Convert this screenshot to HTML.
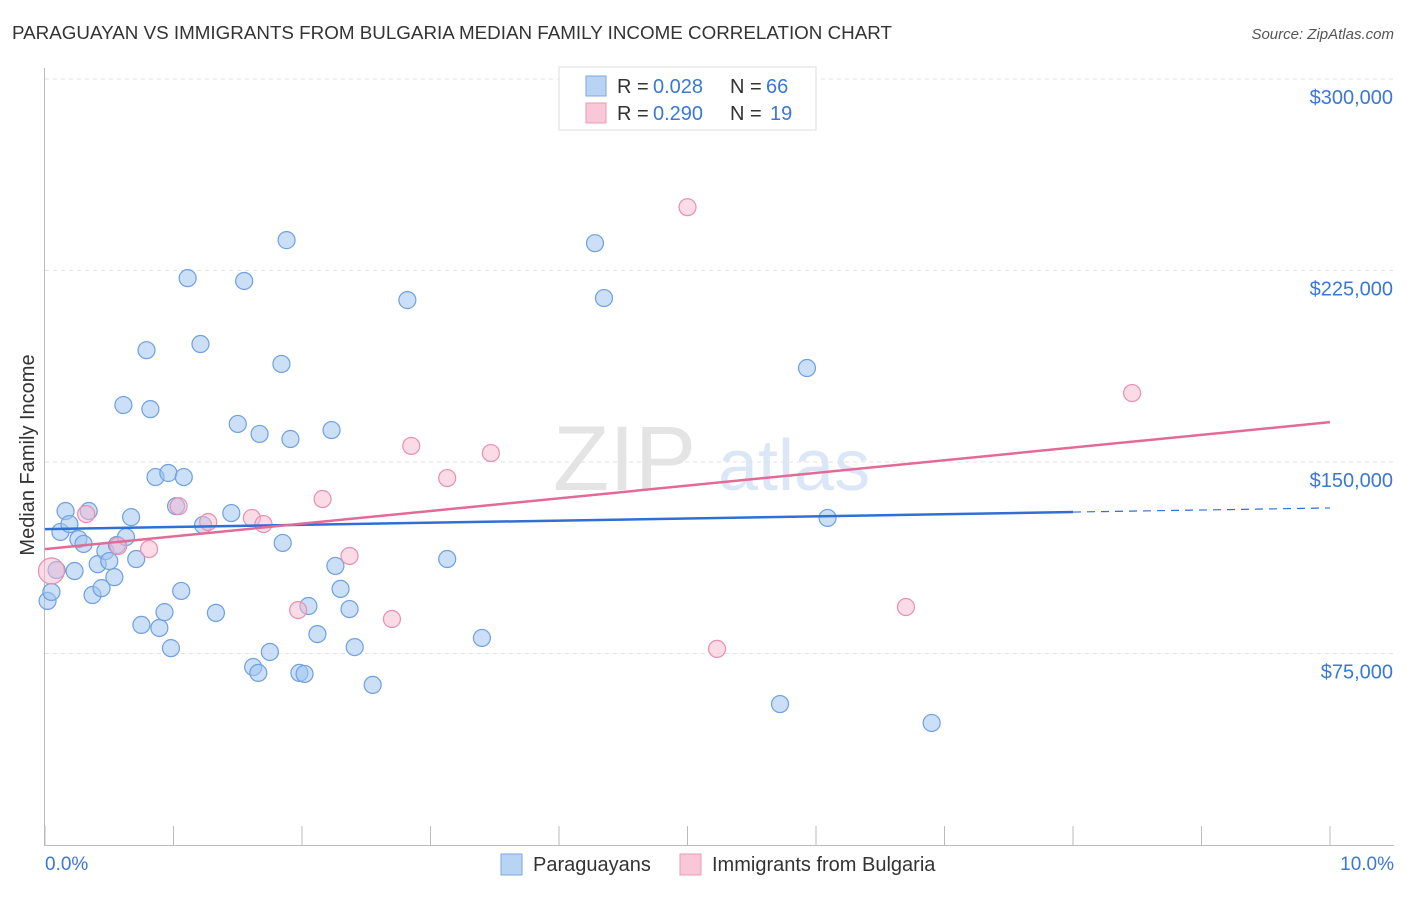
<!DOCTYPE html>
<html><head><meta charset="utf-8"><style>
body{margin:0;background:#fff;font-family:"Liberation Sans",sans-serif;}
svg text{font-family:"Liberation Sans",sans-serif;}
</style></head><body>
<svg id="chart" width="1406" height="892" xmlns="http://www.w3.org/2000/svg">
<text x="12" y="39" font-size="18" fill="#333" textLength="880" lengthAdjust="spacingAndGlyphs">PARAGUAYAN VS IMMIGRANTS FROM BULGARIA MEDIAN FAMILY INCOME CORRELATION CHART</text>
<text x="1394" y="39" font-size="15" fill="#555" text-anchor="end" font-style="italic">Source: ZipAtlas.com</text>
<text x="0" y="0" font-size="20" fill="#333" transform="translate(34,455) rotate(-90)" text-anchor="middle">Median Family Income</text>
<g><text x="553" y="490" font-size="92" fill="#e4e4e4" font-family="Liberation Serif">ZIP</text><text x="718" y="490" font-size="72" fill="#dbe7f6">atlas</text></g>
<g id="grid"></g><g id="axes"></g><g id="pts"></g><g id="lines"></g>
<g>
<rect x="559" y="67" width="257" height="63" fill="#fff" stroke="#ddd"/>
<rect x="586" y="76" width="20" height="20" fill="#b9d3f3" stroke="#7aa8e4"/>
<rect x="586" y="103" width="20" height="20" fill="#f9c8d8" stroke="#eb9ab4"/>
<text x="617" y="93" font-size="20" fill="#333">R =</text><text x="653" y="93" font-size="20" fill="#3a78d4">0.028</text>
<text x="730" y="93" font-size="20" fill="#333">N =</text><text x="766" y="93" font-size="20" fill="#3a78d4">66</text>
<text x="617" y="120" font-size="20" fill="#333">R =</text><text x="653" y="120" font-size="20" fill="#3a78d4">0.290</text>
<text x="730" y="120" font-size="20" fill="#333">N =</text><text x="770" y="120" font-size="20" fill="#3a78d4">19</text>
</g>
<g>
<rect x="501" y="854" width="21" height="21" fill="#b9d3f3" stroke="#7aa8e4"/>
<text x="533" y="871" font-size="20" fill="#333">Paraguayans</text>
<rect x="680" y="854" width="21" height="21" fill="#f9c8d8" stroke="#eb9ab4"/>
<text x="712" y="871" font-size="20" fill="#333">Immigrants from Bulgaria</text>
</g>
<text x="45" y="870" font-size="19" fill="#3a78d4">0.0%</text>
<text x="1394" y="870" font-size="19" fill="#3a78d4" text-anchor="end">10.0%</text>
</svg>
<script>
const yTicks=[75,150,225,300];
const yTickLabels=["$75,000","$150,000","$225,000","$300,000"];
const xTicks=[0,1,2,3,4,5,6,7,8,9,10];
const blueX=[.02,.05,.09,.12,.16,.19,.23,.26,.30,.34,.37,.41,.44,.47,.50,.54,.56,.63,.67,.71,.75,.79,.82,.86,.89,.93,.96,.98,1.02,1.06,1.08,1.11,1.21,1.23,1.33,1.45,1.50,1.55,1.62,1.66,1.67,1.75,1.85,1.84,1.88,1.91,1.98,2.02,2.05,2.12,2.23,2.26,2.30,2.37,2.41,2.55,2.82,3.13,3.40,4.28,4.35,5.72,5.93,6.09,6.90,.61];
const blueY=[95.6,99.1,107.7,122.6,130.8,125.7,107.3,119.8,117.9,130.8,97.9,110.0,100.6,115.1,111.2,104.9,117.5,120.6,128.4,112.0,86.2,193.8,170.7,144.1,85.0,91.2,145.7,77.1,132.7,99.5,144.1,222.0,196.2,125.3,90.9,130.0,164.9,220.9,69.7,67.4,161.0,75.6,118.3,188.4,236.9,159.0,67.4,67.0,93.6,82.6,162.5,109.3,100.3,92.4,77.5,62.7,213.4,112.0,81.1,235.7,214.2,55.2,186.8,128.1,47.8,172.3];
const pinkX=[.05,.32,.57,.81,1.04,1.27,1.61,1.70,1.97,2.16,2.37,2.70,2.85,3.13,3.47,5.00,5.23,6.70,8.46];
const pinkY=[107.3,129.6,117.1,115.9,132.7,126.5,128.1,125.7,92.0,135.5,113.2,88.5,156.3,143.7,153.5,249.8,76.8,93.2,177.0];
const blueTrend=[123.7,130.4,132.0]; // at 0%, 8%, 10%
const pinkTrend=[115.9,165.6]; // at 0%, 10%
const NS="http://www.w3.org/2000/svg";
const sx=v=>45+v*128.5;
const sy=v=>845-v*191.5/75;
function mk(tag,attrs,parent){const e=document.createElementNS(NS,tag);for(const k in attrs)e.setAttribute(k,attrs[k]);parent.appendChild(e);return e;}
const grid=document.getElementById('grid'),axes=document.getElementById('axes'),pts=document.getElementById('pts'),lines=document.getElementById('lines');
yTicks.forEach((t,i)=>{
 const g=mk('line',{x1:45,x2:1394,y1:sy(t),y2:sy(t),stroke:'#e2e2e2','stroke-dasharray':'4,4'},grid);
 
 
 const tx=mk('text',{x:1393,y:sy(t)+25,'font-size':20,fill:'#3a78d4','text-anchor':'end'},axes);
 tx.textContent=yTickLabels[i];
 
 
});
const topg=mk('line',{x1:45,x2:1394,y1:79,y2:79,stroke:'#e2e2e2','stroke-dasharray':'4,4'},grid);


const ya=mk('line',{x1:44.5,x2:44.5,y1:68,y2:846,stroke:'#bbb'},axes);


const xa=mk('line',{x1:44,x2:1394,y1:845.5,y2:845.5,stroke:'#bbb'},axes);


xTicks.forEach(t=>{
 const l=mk('line',{x1:sx(t),x2:sx(t),y1:826,y2:846,stroke:'#bbb'},axes);
 
 
});
blueX.forEach((x,i)=>{
 const c=mk('circle',{cx:sx(x),cy:sy(blueY[i]),r:8.5,fill:'rgba(160,196,240,0.55)',stroke:'#6fa0e2','stroke-width':1.2},pts);
 
 
});
pinkX.forEach((x,i)=>{
 const c=mk('circle',{cx:sx(x),cy:sy(pinkY[i]),r:i===0?13:8.5,fill:'rgba(246,184,206,0.5)',stroke:'#e98fb0','stroke-width':1.2},pts);
 
 
});
const b1=mk('line',{x1:sx(0),y1:sy(blueTrend[0]),x2:sx(8),y2:sy(blueTrend[1]),stroke:'#2f6fd6','stroke-width':2.5},lines);


const b2=mk('line',{x1:sx(8),y1:sy(blueTrend[1]),x2:sx(10),y2:sy(blueTrend[2]),stroke:'#2f6fd6','stroke-width':1.2,'stroke-dasharray':'8,6'},lines);


const p1=mk('line',{x1:sx(0),y1:sy(pinkTrend[0]),x2:sx(10),y2:sy(pinkTrend[1]),stroke:'#e46a96','stroke-width':2.5},lines);


</script>
</body></html>
